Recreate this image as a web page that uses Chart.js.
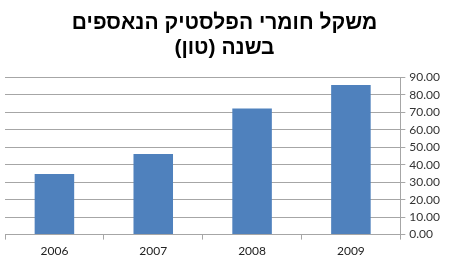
<!DOCTYPE html>
<html>
<head>
<meta charset="utf-8">
<script src="https://cdn.jsdelivr.net/npm/chart.js@4"></script>
<style>
    body { margin: 0; background: #fff; }
    canvas { display: block; }
</style>
</head>
<body>
<canvas id="plasticChart" width="450" height="270"></canvas>
<script>
// Data
const years = ['2006', '2007', '2008', '2009'];
const tons = [34.6, 46.1, 72.1, 85.5];
const titleLines = ['משקל חומרי הפלסטיק הנאספים', 'בשנה (טון)'];

document.addEventListener('DOMContentLoaded', function() {
    const ctx = document.getElementById('plasticChart').getContext('2d');
    new Chart(ctx, {
        type: 'bar',
        data: {
            labels: years,
            datasets: [{
                data: tons,
                backgroundColor: '#4F81BD',
                borderWidth: 0,
                barPercentage: 0.8,
                categoryPercentage: 0.5
            }]
        },
        options: {
            responsive: false,
            animation: false,
            layout: { padding: { left: 5, right: 6, top: 10, bottom: 8 } },
            plugins: {
                legend: { display: false },
                tooltip: { enabled: false },
                title: {
                    display: true,
                    text: titleLines,
                    color: '#000',
                    font: { family: '"Liberation Sans", Arial, sans-serif', size: 21, weight: 'bold', lineHeight: 1.22 },
                    padding: { top: 0, bottom: 16 }
                }
            },
            scales: {
                x: {
                    grid: { drawOnChartArea: false, tickLength: 5, color: '#a6a6a6' },
                    border: { color: '#a6a6a6' },
                    ticks: { color: '#222', font: { family: 'Lato, sans-serif', size: 12 }, padding: 4 }
                },
                y: {
                    position: 'right',
                    min: 0,
                    max: 90,
                    ticks: {
                        stepSize: 10,
                        color: '#333',
                        font: { family: 'Lato, sans-serif', size: 12 },
                        padding: 4,
                        callback: v => v.toFixed(2)
                    },
                    grid: { color: '#a6a6a6', tickLength: 5 },
                    border: { color: '#a6a6a6' }
                }
            }
        }
    });
});
</script>
</body>
</html>
